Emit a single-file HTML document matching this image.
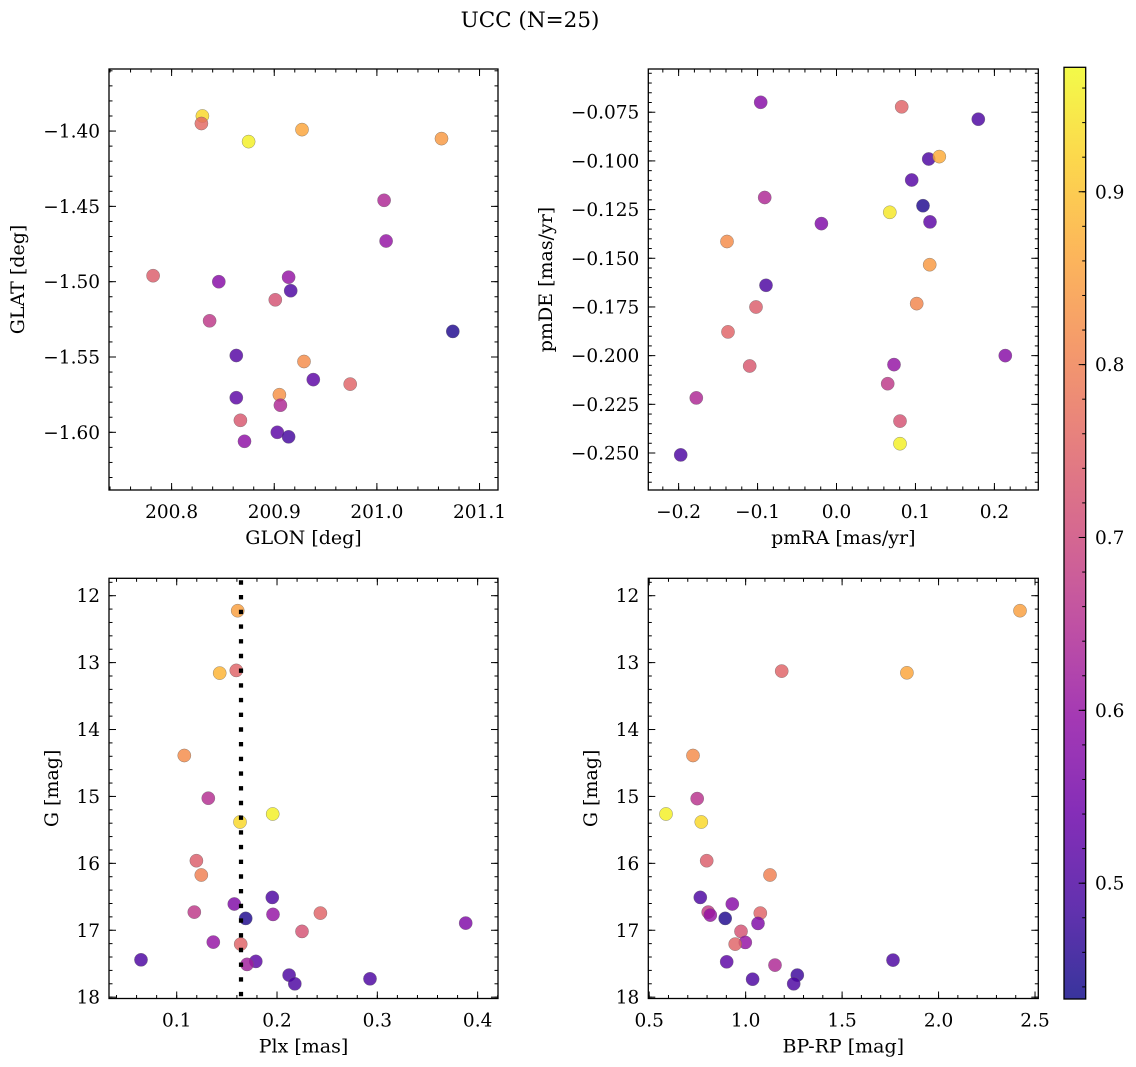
<!DOCTYPE html>
<html><head><meta charset="utf-8">
<style>
html,body{margin:0;padding:0;background:#fff;}
svg{display:block;font-family:"DejaVu Serif","Liberation Serif",serif;}
</style></head>
<body>
<svg id="fig" width="1136" height="1067" viewBox="0 0 1136 1067" xmlns="http://www.w3.org/2000/svg">
<text x="530" y="27" font-size="21.5" text-anchor="middle">UCC (N=25)</text>
</svg>
<script>
// ---- Data ----
const vMin = 0.433, vMax = 0.972;
// Panel 1: GLON vs GLAT
const p1Glon = [200.830,200.829,200.875,200.927,201.063,201.007,201.009,200.782,200.846,200.914,200.916,200.901,200.837,201.074,200.863,200.929,200.938,200.974,200.863,200.905,200.906,200.867,200.903,200.914,200.871];
const p1Glat = [-1.390,-1.395,-1.407,-1.399,-1.405,-1.446,-1.473,-1.496,-1.500,-1.497,-1.506,-1.512,-1.526,-1.533,-1.549,-1.553,-1.565,-1.568,-1.577,-1.575,-1.582,-1.592,-1.600,-1.603,-1.606];
const p1Prob = [0.93,0.76,0.96,0.86,0.84,0.64,0.60,0.74,0.58,0.60,0.50,0.72,0.67,0.45,0.51,0.82,0.52,0.75,0.52,0.83,0.64,0.73,0.52,0.49,0.59];
// Panel 2: pmRA vs pmDE
const p2PmRA = [-0.096,0.0826,0.1796,0.1168,0.1302,0.0952,-0.091,0.1096,0.0675,0.1184,-0.0192,-0.1387,0.118,-0.0893,-0.102,0.1016,-0.1374,0.2138,0.0728,-0.110,0.0648,-0.1776,0.0804,0.0804,-0.1974];
const p2PmDE = [-0.0699,-0.0722,-0.0786,-0.0990,-0.0978,-0.1098,-0.1188,-0.1230,-0.1264,-0.1313,-0.1322,-0.1414,-0.1533,-0.1639,-0.1750,-0.1733,-0.1878,-0.2000,-0.2046,-0.2053,-0.2144,-0.2217,-0.2336,-0.2452,-0.2510];
const p2Prob = [0.58,0.75,0.50,0.50,0.87,0.51,0.64,0.45,0.95,0.52,0.57,0.82,0.84,0.50,0.74,0.81,0.75,0.58,0.60,0.73,0.67,0.64,0.72,0.96,0.50];
// Panel 3: Plx vs G
const p3Plx = [0.1608,0.1429,0.1594,0.1076,0.1315,0.1957,0.1631,0.1196,0.1245,0.1953,0.1574,0.1175,0.1960,0.2432,0.1688,0.3881,0.2249,0.1365,0.1638,0.0644,0.1788,0.1701,0.2120,0.2177,0.2927];
const p3G = [12.224,13.157,13.117,14.389,15.027,15.262,15.382,15.960,16.175,16.509,16.608,16.728,16.763,16.743,16.823,16.893,17.017,17.177,17.207,17.441,17.466,17.511,17.671,17.800,17.726];
const p3Prob = [0.85,0.88,0.75,0.82,0.65,0.96,0.93,0.74,0.80,0.50,0.57,0.67,0.60,0.75,0.45,0.57,0.72,0.60,0.75,0.50,0.52,0.62,0.50,0.50,0.50];
const plxLine = 0.1641;
// Panel 4: BP-RP vs G
const p4Color = [2.422,1.187,1.836,0.727,0.749,0.587,0.770,0.798,1.126,0.765,0.931,0.806,0.817,1.076,0.894,1.064,0.976,0.998,0.946,1.764,0.902,1.152,1.268,1.249,1.036];
const p4G = [12.224,13.127,13.152,14.389,15.032,15.262,15.382,15.960,16.175,16.509,16.608,16.728,16.773,16.743,16.823,16.898,17.017,17.182,17.207,17.446,17.471,17.521,17.671,17.800,17.731];
const p4Prob = [0.85,0.75,0.86,0.82,0.66,0.96,0.93,0.74,0.80,0.50,0.58,0.68,0.60,0.75,0.45,0.57,0.72,0.60,0.75,0.50,0.52,0.64,0.48,0.50,0.50];
// Tick labels
const p1XTicks = [200.8,200.9,201.0,201.1];
const p1YTicks = [-1.60,-1.55,-1.50,-1.45,-1.40];
const p2XTicks = [-0.2,-0.1,0.0,0.1,0.2];
const p2YTicks = [-0.250,-0.225,-0.200,-0.175,-0.150,-0.125,-0.100,-0.075];
const p3XTicks = [0.1,0.2,0.3,0.4];
const p34YTicks = [12,13,14,15,16,17,18];
const p4XTicks = [0.5,1.0,1.5,2.0,2.5];
const cbTicks = [0.5,0.6,0.7,0.8,0.9];

// ---- helpers ----
const NS = "http://www.w3.org/2000/svg";
const svg = document.getElementById('fig');
function mk(tag, attrs, parent){
  const e = document.createElementNS(NS, tag);
  for (const k in attrs) e.setAttribute(k, attrs[k]);
  (parent||svg).appendChild(e); return e;
}
const plasma = [[13,8,135],[65,4,157],[106,0,168],[143,13,164],[177,42,144],[204,71,120],[225,100,98],[242,132,75],[252,166,54],[252,206,37],[240,249,33]];
function cmap(v){
  let t = (v - vMin)/(vMax - vMin); t = Math.max(0, Math.min(1, t));
  const f = t*10, i = Math.min(9, Math.floor(f)), r = f - i;
  const a = plasma[i], b = plasma[i+1];
  return 'rgb(' + [0,1,2].map(k => Math.round(a[k] + (b[k]-a[k])*r)).join(',') + ')';
}
function fmt(v, d){ return v.toFixed(d).replace('-', '\u2212'); }
const TICK_FS = 18.5, LAB_FS = 19;

function panel(o){
  const g = mk('g', {});
  
  
  const sx = v => o.x0 + (v - o.xmin)/(o.xmax - o.xmin)*(o.x1 - o.x0);
  const sy = o.invert ? (v => o.y0 + (v - o.ymin)/(o.ymax - o.ymin)*(o.y1 - o.y0))
                      : (v => o.y1 - (v - o.ymin)/(o.ymax - o.ymin)*(o.y1 - o.y0));
  const pts = mk('g', {}, g);
  
  
  for (let i = 0; i < o.xs.length; i++){
    const c = mk('circle', {cx: sx(o.xs[i]).toFixed(1), cy: sy(o.ys[i]).toFixed(1), r: 6.6, fill: cmap(o.cs[i]), 'fill-opacity': 0.82, stroke: '#666', 'stroke-width': 0.5, 'stroke-opacity': 0.7}, pts);
    
    
  }
  if (o.vline !== undefined){
    const l = mk('line', {x1: sx(o.vline), x2: sx(o.vline), y1: o.y0 + 2, y2: o.y1, stroke: '#000', 'stroke-width': 4.2, 'stroke-dasharray': '4.4 10.3'}, g);
    
    
  }
  const fr = mk('rect', {x: o.x0, y: o.y0, width: o.x1 - o.x0, height: o.y1 - o.y0, fill: 'none', stroke: '#000', 'stroke-width': 1.3}, g);
  
  
  const tk = mk('g', {stroke: '#000', 'stroke-width': 1}, g);
  
  
  for (let v = Math.ceil(o.xmin/o.xminor - 1e-6)*o.xminor; v <= o.xmax + 1e-9; v += o.xminor){
    const X = sx(v);
    mk('line', {x1: X, x2: X, y1: o.y1, y2: o.y1 - 3.5}, tk);
    mk('line', {x1: X, x2: X, y1: o.y0, y2: o.y0 + 3.5}, tk);
  }
  for (let v = Math.ceil(o.ymin/o.yminor - 1e-6)*o.yminor; v <= o.ymax + 1e-9; v += o.yminor){
    const Y = sy(v);
    mk('line', {x1: o.x0, x2: o.x0 + 3.5, y1: Y, y2: Y}, tk);
    mk('line', {x1: o.x1, x2: o.x1 - 3.5, y1: Y, y2: Y}, tk);
  }
  o.xt.forEach(v => {
    const X = sx(v);
    mk('line', {x1: X, x2: X, y1: o.y1, y2: o.y1 - 7}, tk);
    mk('line', {x1: X, x2: X, y1: o.y0, y2: o.y0 + 7}, tk);
    const t = mk('text', {x: X, y: o.y1 + 28, 'font-size': TICK_FS, 'text-anchor': 'middle'}, g);
    t.textContent = fmt(v, o.xd);
    
    
  });
  o.yt.forEach(v => {
    const Y = sy(v);
    mk('line', {x1: o.x0, x2: o.x0 + 7, y1: Y, y2: Y}, tk);
    mk('line', {x1: o.x1, x2: o.x1 - 7, y1: Y, y2: Y}, tk);
    const t = mk('text', {x: o.x0 - 9, y: Y + 6.5, 'font-size': TICK_FS, 'text-anchor': 'end'}, g);
    t.textContent = fmt(v, o.yd);
    
    
  });
  const xl = mk('text', {x: (o.x0 + o.x1)/2, y: o.y1 + 54, 'font-size': LAB_FS, 'text-anchor': 'middle'}, g);
  xl.textContent = o.xlabel;
  
  
  const yc = (o.y0 + o.y1)/2;
  const yl = mk('text', {x: o.ylx, y: yc, 'font-size': LAB_FS, 'text-anchor': 'middle', transform: 'rotate(-90 ' + o.ylx + ' ' + yc + ')'}, g);
  yl.textContent = o.ylabel;
  
  
}

panel({name:'glon-glat-panel', x0:109, x1:498, y0:69, y1:490, xmin:200.739, xmax:201.118, ymin:-1.6383, ymax:-1.3588,
  xs:p1Glon, ys:p1Glat, cs:p1Prob, xt:p1XTicks, yt:p1YTicks, xminor:0.02, yminor:0.01, xd:1, yd:2,
  xlabel:'GLON [deg]', ylabel:'GLAT [deg]', ylx:24});
panel({name:'pm-panel', x0:648.3, x1:1038.3, y0:69, y1:490, xmin:-0.2384, xmax:0.2556, ymin:-0.2690, ymax:-0.0528,
  xs:p2PmRA, ys:p2PmDE, cs:p2Prob, xt:p2XTicks, yt:p2YTicks, xminor:0.02, yminor:0.005, xd:1, yd:3,
  xlabel:'pmRA [mas/yr]', ylabel:'pmDE [mas/yr]', ylx:552});
panel({name:'plx-g-panel', x0:109, x1:498, y0:578.3, y1:998.5, xmin:0.0325, xmax:0.4203, ymin:11.74, ymax:18.02, invert:true,
  xs:p3Plx, ys:p3G, cs:p3Prob, xt:p3XTicks, yt:p34YTicks, xminor:0.02, yminor:0.2, xd:1, yd:0, vline:plxLine,
  xlabel:'Plx [mas]', ylabel:'G [mag]', ylx:58});
panel({name:'cmd-panel', x0:648.3, x1:1038.3, y0:578.3, y1:998.5, xmin:0.4954, xmax:2.517, ymin:11.74, ymax:18.02, invert:true,
  xs:p4Color, ys:p4G, cs:p4Prob, xt:p4XTicks, yt:p34YTicks, xminor:0.1, yminor:0.2, xd:1, yd:0,
  xlabel:'BP-RP [mag]', ylabel:'G [mag]', ylx:597});

// ---- colorbar ----
(function(){
  const cx0 = 1064, cx1 = 1085.7, cy0 = 67.3, cy1 = 999;
  const g = mk('g', {});
  
  
  const defs = mk('defs', {}, g);
  const lg = mk('linearGradient', {id: 'cbg', x1: 0, y1: 1, x2: 0, y2: 0}, defs);
  for (let i = 0; i <= 20; i++){
    const v = vMin + (vMax - vMin)*i/20;
    mk('stop', {offset: (i/20), 'stop-color': cmap(v)}, lg);
  }
  const r = mk('rect', {x: cx0, y: cy0, width: cx1 - cx0, height: cy1 - cy0, fill: 'url(#cbg)', 'fill-opacity': 0.82, stroke: '#000', 'stroke-width': 1.3}, g);
  
  
  const sy = v => cy1 - (v - vMin)/(vMax - vMin)*(cy1 - cy0);
  for (let v = 0.44; v < vMax; v += 0.02){
    const Y = sy(v);
    mk('line', {x1: cx1, x2: cx1 - 3.5, y1: Y, y2: Y, stroke: '#000', 'stroke-width': 1}, g);
  }
  cbTicks.forEach(v => {
    const Y = sy(v);
    mk('line', {x1: cx1, x2: cx1 - 7, y1: Y, y2: Y, stroke: '#000', 'stroke-width': 1}, g);
    const t = mk('text', {x: 1095, y: Y + 6.5, 'font-size': TICK_FS}, g);
    t.textContent = v.toFixed(1);
    
    
  });
})();
</script>
</body></html>
